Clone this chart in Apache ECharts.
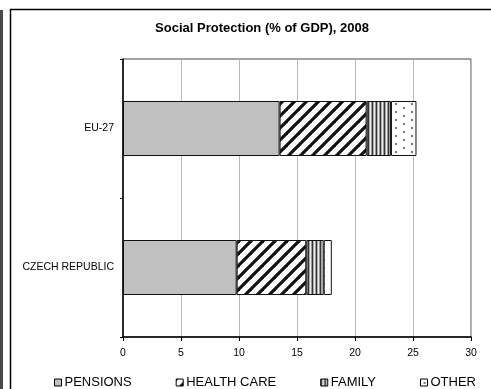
<!DOCTYPE html>
<html><head><meta charset="utf-8">
<script src="https://cdn.jsdelivr.net/npm/echarts@6/dist/echarts.min.js"></script>
<style>html,body{margin:0;padding:0;background:#fff}#c{width:491px;height:389px}</style>
</head><body><div id="c"></div>
<script>
var categories = ['EU-27', 'CZECH REPUBLIC'];
var seriesNames = ['PENSIONS', 'HEALTH CARE', 'FAMILY', 'OTHER'];
var pensions = [13.5, 9.8];
var healthCare = [7.5, 6.0];
var family = [2.1, 1.5];
var other = [2.2, 0.7];
var xTicks = [0, 5, 10, 15, 20, 25, 30];

function makePattern(w, h, draw) {
  var c = document.createElement('canvas');
  c.width = w; c.height = h;
  var ctx = c.getContext('2d');
  draw(ctx, w, h);
  return { image: c, repeat: 'repeat' };
}
var pGray = '#c0c0c0';
var pDiag = makePattern(12, 12, function (ctx, w, h) {
  ctx.fillStyle = '#fff'; ctx.fillRect(0, 0, w, h);
  ctx.strokeStyle = '#111'; ctx.lineWidth = 3.2;
  for (var k = -1; k <= 1; k++) {
    ctx.beginPath(); ctx.moveTo(k * w - 2, h + 2); ctx.lineTo(k * w + w + 2, -2); ctx.stroke();
  }
});
var pVert = makePattern(4, 4, function (ctx, w, h) {
  ctx.fillStyle = '#333'; ctx.fillRect(0, 0, 1, h);
  ctx.fillStyle = '#aaa'; ctx.fillRect(1, 0, 1, h);
  ctx.fillStyle = '#eee'; ctx.fillRect(2, 0, 1, h);
  ctx.fillStyle = '#999'; ctx.fillRect(3, 0, 1, h);
});
var pDots = makePattern(16, 16, function (ctx, w, h) {
  ctx.fillStyle = '#fff'; ctx.fillRect(0, 0, w, h);
  ctx.fillStyle = '#777';
  ctx.fillRect(3, 3, 2, 2); ctx.fillRect(11, 7, 2, 2);
  ctx.fillRect(3, 11, 2, 2); ctx.fillRect(11, 15, 2, 1); ctx.fillRect(11, 0, 2, 1);
});
var fills = [pGray, pDiag, pVert, pDots];
var dataArr = [pensions, healthCare, family, other];

var chart = echarts.init(document.getElementById('c'), null, { renderer: 'canvas' });
var font = 'Liberation Sans, Arial, sans-serif';
chart.setOption({
  animation: false,
  textStyle: { fontFamily: font },
  title: {
    text: 'Social Protection (% of GDP), 2008',
    left: 257, top: 17, textAlign: 'center',
    textStyle: { fontSize: 13, fontWeight: 'bold', color: '#000', fontFamily: font }
  },
  legend: {
    left: 54, top: 376, padding: 0,
    itemWidth: 7, itemHeight: 7, itemGap: 44,
    icon: 'rect',
    data: seriesNames,
    itemStyle: { borderColor: '#000', borderWidth: 1 },
    textStyle: { fontSize: 13, color: '#000', fontFamily: font, padding: [0, 0, 0, -2] }
  },
  grid: { left: 123, right: 20, top: 59, bottom: 52, show: true, borderColor: '#444', borderWidth: 1 },
  xAxis: {
    type: 'value', min: xTicks[0], max: xTicks[xTicks.length - 1], interval: 5,
    axisLine: { show: true, lineStyle: { color: '#000', width: 1.5 } },
    axisTick: { show: true, length: 4, lineStyle: { color: '#000' } },
    splitLine: { show: true, lineStyle: { color: '#b8b8b8', width: 1 } },
    axisLabel: { color: '#000', fontSize: 10.5, margin: 11, fontFamily: font }
  },
  yAxis: {
    type: 'category', data: categories, inverse: true,
    axisLine: { show: true, lineStyle: { color: '#000', width: 1.5 } },
    axisTick: { show: true, length: 3, lineStyle: { color: '#000' } },
    axisLabel: { color: '#000', fontSize: 10.5, margin: 9, fontFamily: font }
  },
  series: seriesNames.map(function (n, i) {
    return {
      name: n, type: 'bar', stack: 'total', barWidth: 55,
      data: dataArr[i],
      itemStyle: { color: fills[i], borderColor: '#111', borderWidth: 1 }
    };
  }),
  graphic: [
    { type: 'rect', shape: { x: 0, y: 10, width: 3, height: 379 }, style: { fill: '#4a4a4a' }, silent: true },
    { type: 'line', shape: { x1: 10, y1: 9.5, x2: 491, y2: 9.5 }, style: { stroke: '#000', lineWidth: 1.5 }, silent: true },
    { type: 'line', shape: { x1: 10.5, y1: 9, x2: 10.5, y2: 389 }, style: { stroke: '#000', lineWidth: 1.5 }, silent: true }
  ]
});
</script></body></html>
